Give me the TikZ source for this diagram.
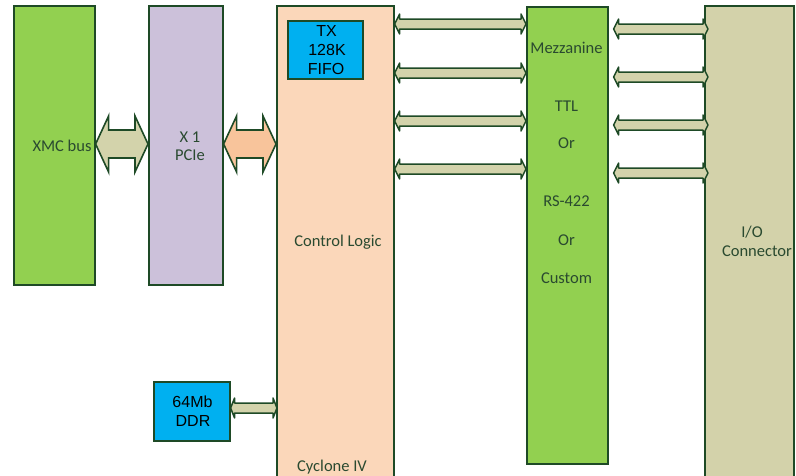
\documentclass[tikz,border=0pt]{standalone}
\usepackage{fontspec}
\setmainfont{Carlito}
\newfontfamily\arialf{Liberation Sans}
\usetikzlibrary{calc}
\definecolor{bord}{HTML}{1E4A26}
\definecolor{txtc}{HTML}{2A4A30}
\definecolor{xmcg}{HTML}{92D050}
\definecolor{lav}{HTML}{CCC1DA}
\definecolor{peach}{HTML}{FBD7BA}
\definecolor{peacharr}{HTML}{F8C49B}
\definecolor{tanc}{HTML}{D3D3AB}
\definecolor{ioc}{HTML}{D3D2AA}
\definecolor{bluec}{HTML}{00B0F0}
\newcommand\dbl[6]{%
  \draw[#6] let \p1=#1, \p2=#2 in
    (\x1,\y1) -- (\x1+#5,\y1+#4) -- (\x1+#5,\y1+#3) -- (\x2-#5,\y1+#3)
    -- (\x2-#5,\y1+#4) -- (\x2,\y1) -- (\x2-#5,\y1-#4) -- (\x2-#5,\y1-#3)
    -- (\x1+#5,\y1-#3) -- (\x1+#5,\y1-#4) -- cycle;}
\begin{document}
\begin{tikzpicture}[x=1pt,y=-1pt,
  box/.style={draw=bord, line width=1.6pt, inner sep=0pt, anchor=north west},
  lbl/.style={text=txtc, font=\fontsize{16.5}{19}\selectfont, inner sep=0pt, anchor=base},
  alb/.style={text=black, font=\arialf\fontsize{16}{19}\selectfont, inner sep=0pt, anchor=base},
  fatarr/.style={draw=bord, line width=1.6pt, line join=miter},
  thinarr/.style={draw=bord, line width=1.5pt, fill=tanc, line join=round}]
\useasboundingbox (0,0) rectangle (796,475);
\clip (0,0) rectangle (796,475);
% boxes
\node[box, fill=xmcg, minimum width=81pt, minimum height=279pt] (xmc) at (13,5) {};
\node[box, fill=lav, minimum width=74pt, minimum height=279pt] (pcie) at (148,5) {};
\node[box, fill=peach, minimum width=117pt, minimum height=472pt] (ctrl) at (276,5) {};
\node[box, fill=bluec, minimum width=75pt, minimum height=58pt] (fifo) at (287,20) {};
\node[box, fill=bluec, minimum width=76pt, minimum height=59pt] (ddr) at (153,381) {};
\node[box, fill=xmcg, minimum width=81pt, minimum height=457pt] (mezz) at (526,6) {};
\node[box, fill=ioc, minimum width=89pt, minimum height=475pt] (io) at (704,5) {};
% row coordinates
\coordinate (r0) at (0,144);
\coordinate (c1) at (0,24);
\coordinate (c2) at (0,73);
\coordinate (c3) at (0,121);
\coordinate (c4) at (0,169);
\coordinate (d1) at (0,29);
\coordinate (d2) at (0,77);
\coordinate (d3) at (0,125);
\coordinate (d4) at (0,173);
\coordinate (e1) at (0,408);
% fat arrows
\dbl{(xmc.east |- r0)}{(pcie.west |- r0)}{14pt}{28pt}{13pt}{fatarr, fill=tanc}
\dbl{(pcie.east |- r0)}{(ctrl.west |- r0)}{14pt}{28pt}{13pt}{fatarr, fill=peacharr}
% thin arrows control - mezzanine
\foreach \c in {c1,c2,c3,c4}{
  \dbl{(ctrl.east |- \c)}{(mezz.west |- \c)}{5pt}{10pt}{5pt}{thinarr}
}
% thin arrows mezzanine - I/O
\foreach \d in {d1,d2,d3,d4}{
  \dbl{($(mezz.east |- \d)+(5,0)$)}{($(io.west |- \d)+(4,0)$)}{5pt}{10pt}{5pt}{thinarr}
}
% DDR arrow
\dbl{(ddr.east |- e1)}{($(ctrl.west |- e1)+(1,0)$)}{5pt}{10pt}{4pt}{thinarr}
% labels
\node[lbl] (t1) at (62,151.5) {XMC bus};
\node[lbl] (t2) at (190,142) {X 1};
\node[lbl] (t3) at (190,160.7) {PCIe};
\node[lbl] (t4) at (338,246) {Control Logic};
\node[lbl] (t5) at (332,471) {Cyclone IV};
\node[lbl] (t6) at (566.5,53.3) {Mezzanine};
\node[lbl] (t7) at (566.5,111.7) {TTL};
\node[lbl] (t8) at (566.5,148.3) {Or};
\node[lbl] (t9) at (566.5,206.7) {RS-422};
\node[lbl] (t10) at (566.5,245) {Or};
\node[lbl] (t11) at (566.5,283.3) {Custom};
\node[lbl] (t12) at (752,237) {I/O};
\node[lbl] (t13) at (757,256.7) {Connector};
\node[alb] (f1) at (326.5,36) {TX};
\node[alb] (f2) at (327,55) {128K};
\node[alb] (f3) at (326,74) {FIFO};
\node[alb] (g1) at (192.5,407) {64Mb};
\node[alb] (g2) at (193,426) {DDR};
\end{tikzpicture}
\end{document}
